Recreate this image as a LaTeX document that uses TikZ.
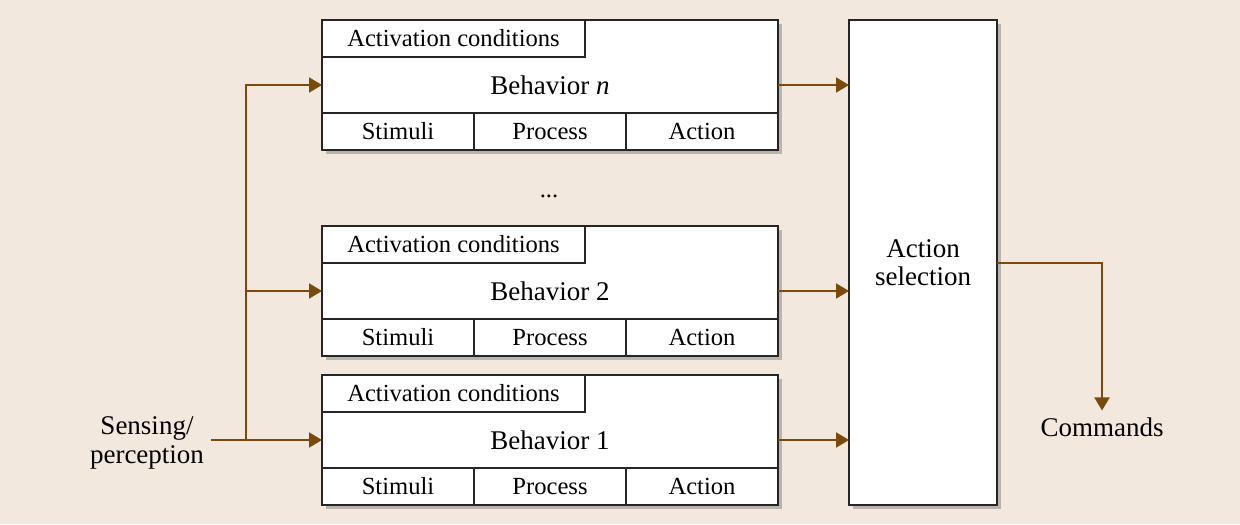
\documentclass[tikz,border=0pt]{standalone}
\usepackage{fontspec}
\setmainfont{Liberation Serif}
\usetikzlibrary{positioning,arrows.meta,shadows}
\definecolor{paper}{HTML}{F3E8DE}
\definecolor{wire}{HTML}{7B4A0B}

\begin{document}
\begin{tikzpicture}[x=.5pt,y=-.5pt,>={Triangle[length=6.5pt,width=7.5pt]},font=\fontsize{12.3}{14}\selectfont,
  box/.style={draw=black!85,line width=1pt,fill=white,inner sep=0pt,outer sep=0pt,anchor=north west,
    drop shadow={shadow xshift=2pt,shadow yshift=-2pt,opacity=.4,fill=black!60}},
  cell/.style={draw=black!85,line width=.6pt,minimum width=76pt,minimum height=18.5pt,inner sep=0pt,outer sep=0pt},
  wire/.style={->,draw=wire,line width=1pt},
  big/.style={font=\fontsize{13.5}{14.3}\selectfont}]
\fill[paper] (0,0) rectangle (1240,524);
% behaviors, top to bottom
\foreach \top/\idx/\lbl in {20/n/{Behavior \textit{n}},226/2/{Behavior 2},375/1/{Behavior 1}}{
  \node[box,minimum width=228pt,minimum height=65pt] (beh-\idx) at (322,\top) {};
  \node[cell,anchor=north west,minimum width=131.5pt] (cond-\idx) at (beh-\idx.north west) {Activation conditions};
  \node[big] (lbl-\idx) at (550,\top+65) {\lbl};
  \node[cell,anchor=south west] (stim-\idx) at (beh-\idx.south west) {Stimuli};
  \node[cell,right=0pt of stim-\idx] (proc-\idx) {Process};
  \node[cell,right=0pt of proc-\idx] (act-\idx) {Action};
}
\node (dots) at (549,196) {...};
\node[box,minimum width=74pt,minimum height=242.5pt,align=center,big] (select) at (849,20) {Action\\selection};
\node[big,align=center] (sense) at (147,443) {Sensing/\\perception};
\node[big] (cmd) at (1102,427) {Commands};
\coordinate (fork) at (246,440);
% inputs
\draw[wire] (sense.east |- fork) -- (beh-1.west |- lbl-1);
\draw[wire] (fork) -- (fork |- lbl-n) -- (beh-n.west |- lbl-n);
\draw[wire] (fork |- lbl-2) -- (beh-2.west |- lbl-2);
% outputs
\foreach \idx in {n,2,1}
  \draw[wire] (beh-\idx.east |- lbl-\idx) -- (select.west |- lbl-\idx);
\draw[wire] (select.east) -| (cmd.north);
\end{tikzpicture}
\end{document}
